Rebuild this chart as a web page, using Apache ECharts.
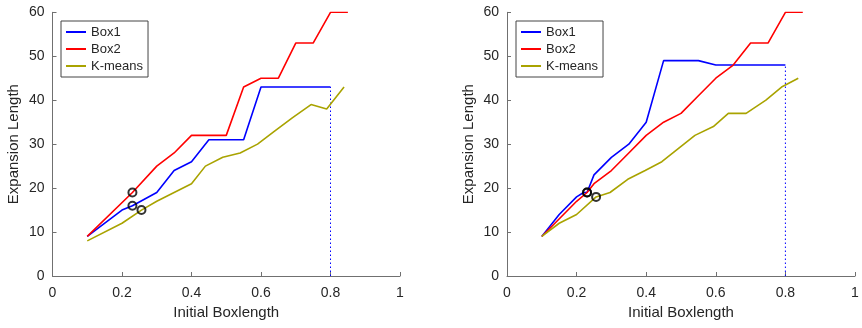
<!DOCTYPE html>
<html>
<head>
<meta charset="utf-8">
<script src="https://cdn.jsdelivr.net/npm/echarts@6/dist/echarts.min.js"></script>
<style>
html,body{margin:0;padding:0;background:#fff;}
#chart{width:862px;height:328px;}
</style>
</head>
<body>
<div id="chart"></div>
<script>
// ---- Data ----
const seriesNames = ['Box1', 'Box2', 'K-means'];

// Left panel
const box1Left = [[0.1,9],[0.2,15],[0.23,16],[0.3,19],[0.35,24],[0.4,26],[0.45,31],[0.55,31],[0.6,43],[0.8,43]];
const box2Left = [[0.1,9],[0.23,19],[0.3,25],[0.35,28],[0.4,32],[0.5,32],[0.55,43],[0.6,45],[0.65,45],[0.7,53],[0.75,53],[0.8,60],[0.85,60]];
const kmeansLeft = [[0.1,8],[0.2,12],[0.256,15],[0.3,17],[0.35,19],[0.4,21],[0.44,25],[0.49,27],[0.54,28],[0.59,30],[0.64,33],[0.69,36],[0.744,39],[0.789,38],[0.839,43]];
const markersLeft = [[0.23,19],[0.23,16],[0.256,15]];
const cutoffLeft = [[0.8,0],[0.8,43]];

// Right panel
const box1Right = [[0.1,9],[0.15,14],[0.2,18],[0.22,19],[0.23,19],[0.25,23],[0.3,27],[0.35,30],[0.4,35],[0.45,49],[0.55,49],[0.6,48],[0.8,48]];
const box2Right = [[0.1,9],[0.2,17],[0.23,19],[0.25,21],[0.3,24],[0.35,28],[0.4,32],[0.45,35],[0.5,37],[0.55,41],[0.6,45],[0.65,48],[0.7,53],[0.75,53],[0.8,60],[0.85,60]];
const kmeansRight = [[0.1,9],[0.15,12],[0.2,14],[0.256,18],[0.296,19],[0.347,22],[0.397,24],[0.445,26],[0.54,32],[0.593,34],[0.636,37],[0.687,37],[0.744,40],[0.789,43],[0.837,45]];
const markersRight = [[0.23,19],[0.23,19],[0.256,18]];
const cutoffRight = [[0.8,0],[0.8,48]];

const xAxisTitle = 'Initial Boxlength';
const yAxisTitle = 'Expansion Length';

// ---- Styling ----
const FONT = '"Liberation Sans", Arial, Helvetica, sans-serif';
const colors = { 'Box1': '#0000ff', 'Box2': '#ff0000', 'K-means': '#a9a300' };
const axisColor = '#707070';
const textColor = '#262626';

function xAxis(gridIndex) {
  return {
    type: 'value', gridIndex, min: 0, max: 1, interval: 0.2,
    name: xAxisTitle, nameLocation: 'middle', nameGap: 29,
    nameTextStyle: { fontFamily: FONT, fontSize: 15, color: textColor },
    axisLine: { show: true, lineStyle: { color: axisColor, width: 1 } },
    axisTick: { show: true, inside: true, length: 4, lineStyle: { color: axisColor } },
    axisLabel: { fontFamily: FONT, fontSize: 14, color: textColor, margin: 10,
      formatter: v => (v === 0 || v === 1) ? String(v) : v.toFixed(1) },
    splitLine: { show: false }
  };
}
function yAxis(gridIndex) {
  return {
    type: 'value', gridIndex, min: 0, max: 60, interval: 10,
    name: yAxisTitle, nameLocation: 'middle', nameGap: 31,
    nameTextStyle: { fontFamily: FONT, fontSize: 15, color: textColor },
    axisLine: { show: true, lineStyle: { color: axisColor, width: 1 } },
    axisTick: { show: true, inside: true, length: 4, lineStyle: { color: axisColor } },
    axisLabel: { fontFamily: FONT, fontSize: 14, color: textColor, margin: 8 },
    splitLine: { show: false }
  };
}
function lineSeries(name, data, idx) {
  return {
    name, type: 'line', data, xAxisIndex: idx, yAxisIndex: idx,
    symbol: 'none', lineStyle: { color: colors[name], width: 1.6 },
    itemStyle: { color: colors[name] }, z: 2
  };
}
function cutoffSeries(data, idx) {
  return {
    type: 'line', data, xAxisIndex: idx, yAxisIndex: idx, symbol: 'none',
    lineStyle: { color: '#0000ff', width: 1, type: [1.5, 2.5] }, z: 1, silent: true
  };
}
function markerSeries(data, idx) {
  return {
    type: 'scatter', data, xAxisIndex: idx, yAxisIndex: idx,
    symbol: 'circle', symbolSize: 8,
    itemStyle: { color: 'rgba(0,0,0,0)', borderColor: '#000', borderWidth: 2 }, z: 5, silent: true
  };
}
function legend(left) {
  return {
    left, top: 21, orient: 'vertical',
    data: seriesNames.map(n => ({ name: n, icon: 'rect' })),
    itemWidth: 20, itemHeight: 2, itemGap: 3,
    padding: [4, 5, 4, 5],
    backgroundColor: '#fff', borderColor: '#444', borderWidth: 1, borderRadius: 0,
    textStyle: { fontFamily: FONT, fontSize: 13, color: textColor, lineHeight: 14 },
    selectedMode: false
  };
}

const chart = echarts.init(document.getElementById('chart'), null, { renderer: 'canvas' });
chart.setOption({
  animation: false,
  backgroundColor: '#fff',
  grid: [
    { left: 52.5, right: 462, top: 12.3, bottom: 52 },
    { left: 507, right: 7, top: 12.3, bottom: 52 }
  ],
  xAxis: [xAxis(0), xAxis(1)],
  yAxis: [yAxis(0), yAxis(1)],
  legend: [legend(61), legend(516)],
  series: [
    cutoffSeries(cutoffLeft, 0),
    lineSeries('Box1', box1Left, 0),
    lineSeries('Box2', box2Left, 0),
    lineSeries('K-means', kmeansLeft, 0),
    markerSeries(markersLeft, 0),
    cutoffSeries(cutoffRight, 1),
    lineSeries('Box1', box1Right, 1),
    lineSeries('Box2', box2Right, 1),
    lineSeries('K-means', kmeansRight, 1),
    markerSeries(markersRight, 1)
  ]
});
</script>
</body>
</html>
